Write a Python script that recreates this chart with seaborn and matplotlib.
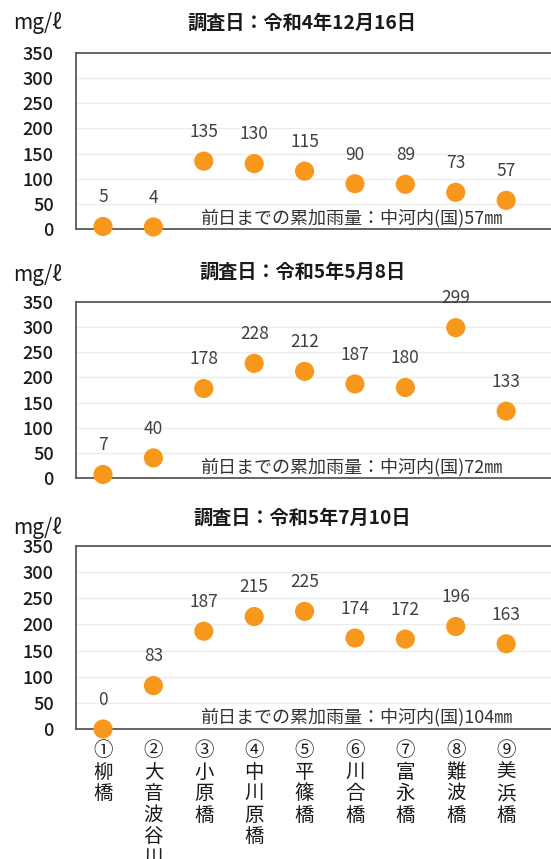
import pandas as pd
import matplotlib.pyplot as plt
import seaborn as sns

# Data
sites = ["①柳橋", "②大音波谷川", "③小原橋", "④中川原橋", "⑤平篠橋",
         "⑥川合橋", "⑦富永橋", "⑧難波橋", "⑨美浜橋"]
dates = ["調査日：令和4年12月16日", "調査日：令和5年5月8日", "調査日：令和5年7月10日"]
vals_r4_1216 = [5, 4, 135, 130, 115, 90, 89, 73, 57]
vals_r5_0508 = [7, 40, 178, 228, 212, 187, 180, 299, 133]
vals_r5_0710 = [0, 83, 187, 215, 225, 174, 172, 196, 163]
rain_notes = ["前日までの累加雨量：中河内(国)57㎜",
              "前日までの累加雨量：中河内(国)72㎜",
              "前日までの累加雨量：中河内(国)104㎜"]
yticks = [0, 50, 100, 150, 200, 250, 300, 350]

sns.set_theme(style="white")
plt.rcParams['font.family'] = ['Noto Sans CJK JP', 'DejaVu Sans']

W, H = 551, 859
fig = plt.figure(figsize=(W / 100, H / 100), dpi=100)

# axes boxes in pixels: (top, bottom)
boxes = [(53, 229), (302, 478), (546, 729)]
title_y = [23, 272, 518]
unit_y = [23, 275, 528]
all_vals = [vals_r4_1216, vals_r5_0508, vals_r5_0710]

orange = "#F7981D"
frame = "#595959"

for i, (vals, (top, bot)) in enumerate(zip(all_vals, boxes)):
    ax = fig.add_axes([76 / W, 1 - bot / H, 1 - 76 / W, (bot - top) / H])
    df = pd.DataFrame({"x": range(len(sites)), "y": vals})
    sns.scatterplot(data=df, x="x", y="y", ax=ax, s=190, color=orange,
                    edgecolor="none", zorder=3, clip_on=False, legend=False)
    for xv, yv in zip(df["x"], df["y"]):
        ax.annotate(str(yv), (xv, yv), xytext=(0, 21), textcoords="offset points",
                    ha="center", va="center", fontsize=12.5, color="#404040")
    ax.set_xlim(-0.536, 8.89)
    ax.set_ylim(0, 350)
    ax.set_yticks(yticks)
    ax.set_yticklabels([str(t) for t in yticks], fontsize=13, color="#1a1a1a",
                       fontweight="medium")
    ax.yaxis.grid(True, color="#ECECEC", linewidth=1)
    ax.set_axisbelow(True)
    ax.tick_params(axis="y", length=0, pad=16)
    ax.set_xlabel("")
    ax.set_ylabel("")
    for side in ["left", "top", "bottom"]:
        ax.spines[side].set_color(frame)
        ax.spines[side].set_linewidth(1.3)
    ax.spines["right"].set_visible(False)

    if i == 2:
        ax.set_xticks(range(len(sites)))
        ax.set_xticklabels(["\n".join(s) for s in sites], fontsize=14,
                           color="#1a1a1a", linespacing=1.03, va="top")
        ax.tick_params(axis="x", length=0, pad=8)
    else:
        ax.set_xticks([])

    ax.text(1.93, 22, rain_notes[i], ha="left", va="center",
            fontsize=13, color="#333333")

    fig.text(302 / W, 1 - title_y[i] / H, dates[i], ha="center", va="center",
             fontsize=13.8, fontweight="bold", color="#1a1a1a")
    fig.text(13 / W, 1 - unit_y[i] / H, "mg/ℓ", ha="left", va="center",
             fontsize=15, color="#1a1a1a")

fig.savefig("out.png", dpi=100)
